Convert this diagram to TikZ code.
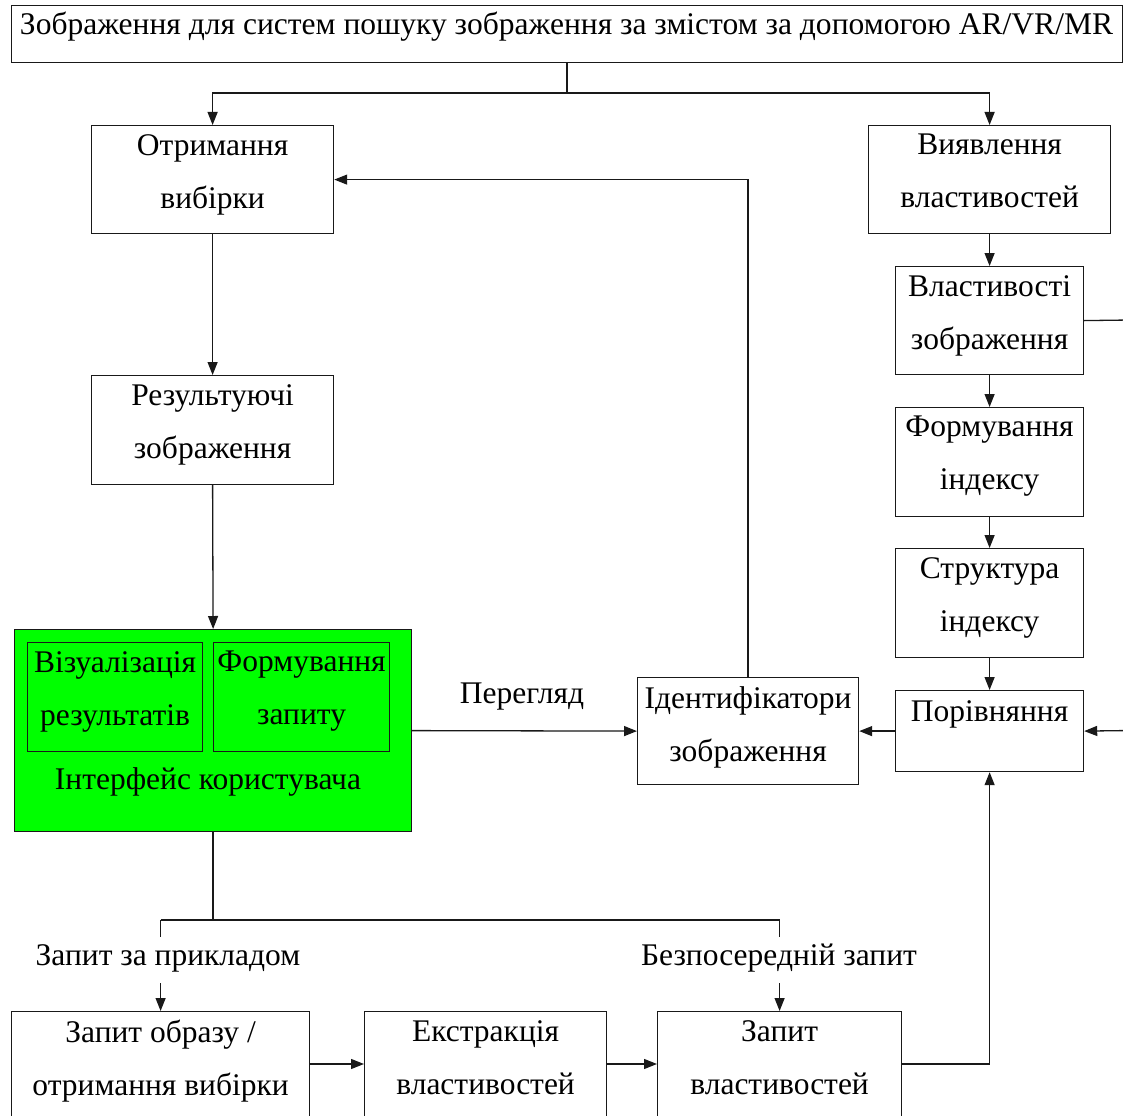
\documentclass[tikz,border=0pt]{standalone}
\usepackage{fontspec}
\usepackage{graphicx}
\setmainfont{Liberation Serif}
\usetikzlibrary{arrows.meta}
\definecolor{uigreen}{RGB}{0,255,0}
\definecolor{edge}{RGB}{25,25,25}
\begin{document}
\begin{tikzpicture}[x=1pt,y=-1pt,
  box/.style={draw=edge, line width=1.2pt, inner sep=0pt, anchor=north west},
  txt/.style={align=center, inner sep=0pt, anchor=north, yshift=-9pt,
    font=\fontsize{31.5}{53}\selectfont, execute at begin node={\rule{0pt}{22pt}}},
  lbl/.style={inner sep=0pt, anchor=base, font=\fontsize{31.5}{35}\selectfont},
  ln/.style={draw=edge, line width=1.3pt},
  arr/.style={ln, -{Triangle[length=13pt,width=10pt]}}]
\useasboundingbox (0,0) rectangle (1123,1115);
\clip (0,0) rectangle (1123,1115);

% title box
\node[box, minimum width=1111pt, minimum height=57pt] (top) at (11,5) {};
\node[lbl] (top-t) at (566.5,35) {\resizebox{1093pt}{\height}{Зображення для систем пошуку зображення за змістом за допомогою AR/VR/MR}};

% left column
\node[box, minimum width=242pt, minimum height=108pt] (otr) at (91,125) {};
\node[txt] (otr-t) at (otr.north) {Отримання\\вибірки};
\node[box, minimum width=242pt, minimum height=109pt] (res) at (91,375) {};
\node[txt] (res-t) at (res.north) {Результуючі\\зображення};

% user interface
\node[box, fill=uigreen, minimum width=397pt, minimum height=202pt] (ui) at (14,629) {};
\node[box, fill=uigreen, minimum width=175pt, minimum height=109pt] (vis) at (27,642) {};
\node[txt] (vis-t) at (vis.north) {Візуалізація\\результатів};
\node[box, fill=uigreen, minimum width=176pt, minimum height=109pt] (frm) at (213,642) {};
\node[txt] (frm-t) at (frm.north) {Формування\\запиту};
\node[lbl] (ui-t) at (208,789) {Інтерфейс користувача};

% identifiers
\node[box, minimum width=221pt, minimum height=107pt] (ident) at (637,677) {};
\node[txt] (ident-t) at (ident.north) {Ідентифікатори\\зображення};
\node[lbl] (view) at (522,703) {Перегляд};

% right column
\node[box, minimum width=242pt, minimum height=108pt] (viy) at (868,125) {};
\node[txt] (viy-t) at (viy.north) {Виявлення\\властивостей};
\node[box, minimum width=188pt, minimum height=108pt] (vl) at (895,266) {};
\node[txt] (vl-t) at (vl.north) {Властивості\\зображення};
\node[box, minimum width=188pt, minimum height=109pt] (fi) at (895,407) {};
\node[txt] (fi-t) at (fi.north) {Формування\\індексу};
\node[box, minimum width=188pt, minimum height=109pt] (si) at (895,548) {};
\node[txt] (si-t) at (si.north) {Структура\\індексу};
\node[box, minimum width=188pt, minimum height=81pt] (por) at (895,690) {};
\node[txt] (por-t) at (por.north) {Порівняння};

% bottom row
\node[box, minimum width=298pt, minimum height=106pt] (q1) at (11,1011) {};
\node[txt] (q1-t) at (q1.north) {Запит образу /\\отримання вибірки};
\node[box, minimum width=242pt, minimum height=106pt] (q2) at (364,1011) {};
\node[txt] (q2-t) at (q2.north) {Екстракція\\властивостей};
\node[box, minimum width=244pt, minimum height=106pt] (q3) at (657,1011) {};
\node[txt] (q3-t) at (q3.north) {Запит\\властивостей};
\node[lbl] (byex) at (168,965) {Запит за прикладом};
\node[lbl] (direct) at (779,965) {Безпосередній запит};

% connectors
\coordinate (split) at (top.south |- 0,93);
\draw[ln] (top.south) -- (split);
\draw[arr] (split) -| (otr.north);
\draw[arr] (split) -| (viy.north);
\draw[arr] (otr.south) -- (res.north);
\draw[arr] (res.south) -- (ui.north);
\draw[arr] (ui.east) -- (ident.west);
\draw[arr] (ident.north) |- (otr.east);
\draw[arr] (viy.south) -- (vl.north);
\draw[arr] (vl.south) -- (fi.north);
\draw[arr] (fi.south) -- (si.north);
\draw[arr] (si.south) -- (por.north);
\draw[arr] (por.west) -- (ident.east);
\coordinate (rin) at (1130,730.5);
\draw[arr] (rin) -- (por.east);
\coordinate (rout) at (1130,320);
\draw[ln] (vl.east) -- (rout);

\coordinate (bl) at (q1.north |- 0,920);
\coordinate (br) at (q3.north |- 0,920);
\draw[ln] (ui.south) -- (ui.south |- bl);
\draw[ln] (bl) -- (br);
\draw[ln] (bl) -- ++(0,17);
\draw[ln] (br) -- ++(0,17);
\coordinate (q1in) at (q1.north |- 0,983);
\coordinate (q3in) at (q3.north |- 0,983);
\draw[arr] (q1in) -- (q1.north);
\draw[arr] (q3in) -- (q3.north);
\draw[arr] (q1.east |- 0,1064) -- (q2.west |- 0,1064);
\draw[arr] (q2.east |- 0,1064) -- (q3.west |- 0,1064);
\draw[arr] (q3.east |- 0,1064) -| (por.south);
\end{tikzpicture}
\end{document}
